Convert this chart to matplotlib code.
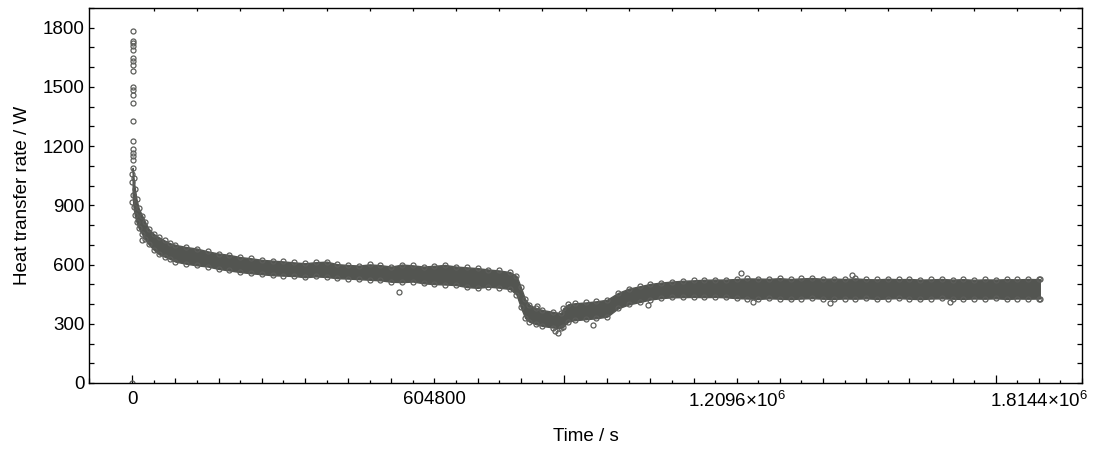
import numpy as np
import matplotlib.pyplot as plt
from matplotlib.ticker import MultipleLocator, FixedLocator

plt.rcParams['font.family'] = ['Liberation Sans', 'DejaVu Sans']
plt.rcParams['mathtext.fontset'] = 'custom'
plt.rcParams['mathtext.rm'] = 'Liberation Sans'

# dense band of measurements: time (days) with upper / lower extreme values (W)
band_days = [0.01, 0.03, 0.06, 0.1, 0.15, 0.23, 0.3, 0.38, 0.5, 0.62, 0.75, 0.88,
             1.0, 1.25, 1.5, 1.75, 2.0, 2.25, 2.5, 2.75, 3.0, 3.25, 3.5, 3.75,
             4.0, 4.25, 4.5, 4.75, 5.0, 5.25, 5.5, 5.75, 6.0, 6.25, 6.5, 6.75,
             7.0, 7.25, 7.5, 7.75, 8.0, 8.25, 8.5, 8.75,
             8.9, 9.0, 9.1, 9.2, 9.35, 9.5, 9.75, 9.93, 9.98, 10.1,
             10.25, 10.5, 10.75, 11.0, 11.25, 11.5, 11.75, 12.0, 12.25, 12.5,
             12.75, 13.0, 13.25, 13.5, 13.75, 14.0,
             14.25, 14.5, 14.75, 15.0, 15.25, 15.5, 15.75, 16.0, 16.25, 16.5,
             16.75, 17.0, 17.25, 17.5, 17.75, 18.0, 18.25, 18.5, 18.75, 19.0,
             19.25, 19.5, 19.75, 20.0, 20.25, 20.5, 20.75, 21.0, 21.02]
band_hi = [1090, 1040, 985, 930, 885, 848, 815, 781, 755, 738, 722, 708,
           700, 689, 681, 667, 656, 649, 638, 632, 624, 620, 616, 611,
           607, 612, 615, 602, 598, 595, 601, 597, 590, 600, 596, 590,
           594, 598, 590, 586, 582, 575, 570, 562,
           542, 486, 424, 396, 380, 370, 360, 354, 378, 399,
           404, 408, 414, 422, 456, 478, 490, 502, 509, 514,
           518, 520, 523, 524, 524, 527,
           530, 529, 528, 531, 527, 530, 532, 528, 529, 527,
           530, 526, 525, 528, 526, 527, 524, 525, 527, 524,
           526, 523, 525, 524, 526, 525, 527, 526, 527]
band_lo = [950, 890, 850, 815, 785, 754, 728, 703, 675, 652, 640, 628,
           615, 604, 596, 590, 578, 570, 562, 556, 551, 546, 544, 542,
           536, 540, 537, 531, 529, 526, 523, 520, 513, 511, 514, 505,
           501, 499, 496, 486, 482, 488, 483, 476,
           448, 384, 330, 310, 298, 289, 281, 277, 286, 311,
           318, 323, 328, 336, 378, 398, 410, 423, 430, 434,
           435, 436, 435, 436, 434, 430,
           428, 426, 429, 427, 425, 428, 430, 427, 426, 428,
           427, 429, 426, 428, 430, 427, 425, 428, 429, 427,
           426, 428, 427, 429, 426, 428, 427, 428, 428]

# start-up spike (time in s)
spike_t = [0, 0, 0, 0, 600, 700, 800, 900, 1000, 1100, 1200, 1300, 1400,
           1500, 1600, 1700, 1800, 1900, 2000, 2100, 2200, 2300, 2400]
spike_w = [0, 915, 1020, 1060, 1783, 1732, 1724, 1707, 1689, 1647, 1631, 1613,
           1579, 1499, 1486, 1460, 1421, 1325, 1224, 1183, 1166, 1149, 1132]

# isolated points outside the band
out_days = [0.23, 6.17, 9.37, 9.8, 9.87, 10.68, 11.95, 14.11, 14.38, 16.16, 16.66, 18.93]
out_w = [725, 463, 390, 262, 252, 294, 396, 559, 412, 404, 548, 412]

label_pos = [0, 604800, 1209600, 1814400]
label_txt = ['0', '604800', r'$\mathregular{1.2096{\times}10^{6}}$',
             r'$\mathregular{1.8144{\times}10^{6}}$']

core = '#535551'
edge = '#5c5d5a'

fig = plt.figure(figsize=(10.98, 4.51), dpi=100)
ax = fig.add_axes([0.0811, 0.1508, 0.9044, 0.8315])

band_t = np.array(band_days) * 86400
ax.fill_between(band_t, band_lo, band_hi, color=core, lw=1.0)
mk = dict(ls='none', marker='o', ms=3.6, mfc='none', mec=edge, mew=0.9)
ax.plot(band_t, band_hi, **mk)
ax.plot(band_t, band_lo, **mk)
ax.plot(spike_t, spike_w, **mk)
ax.plot(np.array(out_days) * 86400, out_w, **mk)

ax.set_xlim(-86400, 1900800)
ax.set_ylim(0, 1900)

for s in ax.spines.values():
    s.set_linewidth(1.0)

ax.yaxis.set_major_locator(MultipleLocator(300))
ax.yaxis.set_minor_locator(MultipleLocator(100))
ax.tick_params(axis='y', which='both', direction='in', left=True, right=True,
               length=3.6, width=0.9, labelsize=13.5, pad=3)
ax.set_ylabel('Heat transfer rate / W', fontsize=13.5, labelpad=9)

# tick marks: long every 10 days, medium every day
ax.xaxis.set_major_locator(FixedLocator([0, 864000, 1728000]))
ax.xaxis.set_minor_locator(MultipleLocator(86400))
ax.tick_params(axis='x', which='major', direction='in', top=True, bottom=True,
               length=5.5, width=0.9, labelbottom=False)
ax.tick_params(axis='x', which='minor', direction='in', top=True, bottom=True,
               length=3.6, width=0.9)

# labels every week, short ticks every half day
ax2 = ax.twiny()
ax2.set_xlim(ax.get_xlim())
for s in ax2.spines.values():
    s.set_visible(False)
ax2.xaxis.set_major_locator(FixedLocator(label_pos))
ax2.set_xticklabels(label_txt)
ax2.xaxis.set_minor_locator(FixedLocator(np.arange(43200, 1900800, 86400)))
ax2.tick_params(axis='x', which='major', length=0, labelbottom=True,
                labeltop=False, labelsize=13.5, pad=6)
ax2.tick_params(axis='x', which='minor', direction='in', top=True, bottom=True,
                length=2.0, width=0.9)
ax2.xaxis.set_label_position('bottom')
ax2.set_xlabel('Time / s', fontsize=13.5, labelpad=12)

fig.savefig('out.png', dpi=100)
